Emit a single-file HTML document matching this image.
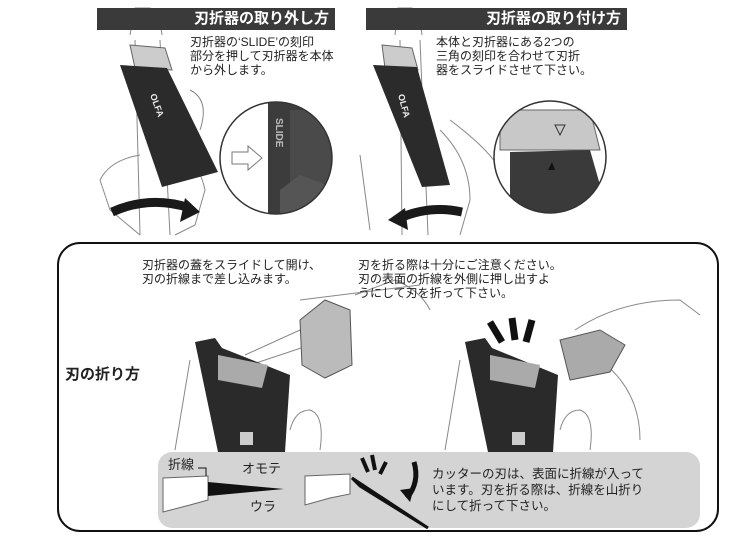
<!DOCTYPE html>
<html><head><meta charset="utf-8"><style>
body{margin:0;width:750px;height:537px;background:#fff;position:relative;overflow:hidden;font-family:"Liberation Sans","Noto Sans CJK JP",sans-serif;color:#222}
.t{position:absolute;font-size:12px;line-height:14px;white-space:nowrap}
.bar{position:absolute;background:#3a3a3a;color:#fff;font-weight:bold;font-size:15px;line-height:22px;height:22px;text-align:right;padding-right:6px;box-sizing:border-box}
svg{position:absolute;left:0;top:0}
</style></head><body>
<svg width="750" height="537">
<rect x="58" y="243" width="660" height="288" rx="22" fill="none" stroke="#111" stroke-width="2"/>
<rect x="158" y="452" width="542" height="76" rx="14" fill="#d4d4d4"/>
<g fill="none" stroke="#888" stroke-width="1">
<!-- top-left cutter frame & hand -->
<path d="M130 35 L135 8 L150 8 L160 20 L162 35 M135 40 L140 235 M160 40 L170 235"/>
<path d="M100 180 Q110 160 140 155 M100 180 L110 210 L140 235 M180 150 Q200 165 205 190 L195 225 L175 235 M190 90 Q210 100 200 130"/>
<!-- top-right -->
<path d="M395 35 L398 8 L412 8 L420 20 L422 35 M400 40 L402 235 M420 40 L428 235"/>
<path d="M360 155 L370 230 M440 130 Q470 160 470 200 L460 235 M450 120 Q490 150 500 170"/>
<!-- bottom hands -->
<path d="M190 360 L175 450 M290 430 Q295 410 310 410 Q325 415 320 450 M300 300 L420 285 M355 295 L395 280 Q420 290 430 310"/>
<path d="M460 360 L445 450 M560 430 Q565 410 580 410 Q595 415 590 450 M575 330 Q620 300 680 300 L700 315 M600 360 Q640 390 640 440"/>
<path d="M245 355 L300 330 L330 320 M250 365 L310 345 Q330 345 335 370"/>
</g>
<!-- top left blade -->
<path d="M130 45 L165 48 L172 70 L135 68 Z" fill="#ccc" stroke="#666"/>
<path d="M120 65 L167 68 L218 172 L162 187 Z" fill="#2b2b2b"/>
<text x="150" y="95" fill="#eee" font-size="9" font-weight="bold" transform="rotate(70 150 95)">OLFA</text>
<path d="M112 212 Q150 195 190 208" fill="none" stroke="#1a1a1a" stroke-width="9"/>
<path d="M185 198 L200 212 L180 222 Z" fill="#1a1a1a"/>
<!-- left circle -->
<clipPath id="c1"><circle cx="276" cy="158" r="56"/></clipPath>
<g clip-path="url(#c1)"><rect x="220" y="100" width="120" height="120" fill="#fff"/>
<rect x="268" y="100" width="80" height="120" fill="#3c3c3c"/>
<path d="M290 110 L340 110 L340 180 L290 190 Z" fill="#4a4a4a"/>
<path d="M280 190 L300 175 L340 190 L340 220 L280 220 Z" fill="#555"/>
<text x="276" y="118" fill="#bbb" font-size="10" font-weight="bold" transform="rotate(90 276 118)">SLIDE</text></g>
<circle cx="276" cy="158" r="56" fill="none" stroke="#333" stroke-width="1.5"/>
<path d="M232 152 L248 152 L248 146 L262 158 L248 170 L248 164 L232 164 Z" fill="#fff" stroke="#777"/>
<!-- top right blade -->
<path d="M382 45 L412 48 L418 70 L385 68 Z" fill="#ccc" stroke="#666"/>
<path d="M373 65 L417 67 L450 185 L422 187 Z" fill="#2b2b2b"/>
<text x="398" y="95" fill="#eee" font-size="9" font-weight="bold" transform="rotate(75 398 95)">OLFA</text>
<path d="M400 218 Q430 205 462 212" fill="none" stroke="#1a1a1a" stroke-width="9"/>
<path d="M405 208 L388 220 L408 230 Z" fill="#1a1a1a"/>
<clipPath id="c2"><circle cx="550" cy="157" r="56"/></clipPath>
<g clip-path="url(#c2)"><rect x="490" y="100" width="120" height="120" fill="#fff"/>
<path d="M500 110 L590 110 L600 150 L500 150 Z" fill="#c8c8c8" stroke="#666"/>
<path d="M510 152 L590 150 L610 220 L510 220 Z" fill="#3a3a3a"/>
<path d="M555 125 L565 125 L560 135 Z" fill="none" stroke="#333"/>
<path d="M548 170 L555 170 L552 162 Z" fill="#111"/></g>
<circle cx="550" cy="157" r="56" fill="none" stroke="#333" stroke-width="1.5"/>
<!-- bottom left cutter -->
<path d="M195 342 L215 338 L222 348 L290 375 L285 452 L218 452 Z" fill="#2a2a2a"/>
<path d="M218 355 L268 365 L262 388 L218 380 Z" fill="#aaa"/>
<path d="M300 320 L325 300 L350 310 L352 365 L325 378 L302 365 Z" fill="#bbb" stroke="#555"/>
<rect x="240" y="432" width="13" height="13" fill="#ccc"/>
<!-- bottom right cutter -->
<path d="M465 342 L485 338 L492 348 L558 375 L553 452 L488 452 Z" fill="#2a2a2a"/>
<path d="M490 355 L540 365 L535 388 L490 380 Z" fill="#aaa"/>
<path d="M560 340 L600 330 L625 345 L610 372 L570 380 Z" fill="#aaa" stroke="#555"/>
<path d="M490 322 L502 342 M512 318 L515 340 M532 320 L526 342" stroke="#111" stroke-width="7"/>
<rect x="512" y="432" width="13" height="13" fill="#ccc"/>
<!-- strip -->
<path d="M163 478 L208 476 L208 500 L190 505 L163 512 Z" fill="#fff" stroke="#666"/>
<path d="M208 482 L284 489 L208 496 Z" fill="#111"/>
<path d="M305 476 L350 474 L350 494 L330 498 L305 505 Z" fill="#fff" stroke="#666"/>
<path d="M352 478 L428 528 L360 486 Z" fill="#111" stroke="#111" stroke-width="3"/>
<path d="M362 458 L368 472 M372 455 L375 470 M386 462 L380 474" stroke="#111" stroke-width="4"/>
<path d="M414 462 Q420 482 407 498" fill="none" stroke="#111" stroke-width="5"/>
<path d="M400 490 L410 502 L414 488 Z" fill="#111"/>
<path d="M198 468 L206 468 L206 476" fill="none" stroke="#111"/>
</svg>
<div class="bar" style="left:97px;top:8px;width:238px">刃折器の取り外し方</div>
<div class="bar" style="left:366px;top:8px;width:261px">刃折器の取り付け方</div>
<div class="t" style="left:190px;top:35px">刃折器の‘SLIDE’の刻印<br>部分を押して刃折器を本体<br>から外します。</div>
<div class="t" style="left:436px;top:35px">本体と刃折器にある2つの<br>三角の刻印を合わせて刃折<br>器をスライドさせて下さい。</div>
<div class="t" style="left:142px;top:258px">刃折器の蓋をスライドして開け、<br>刃の折線まで差し込みます。</div>
<div class="t" style="left:358px;top:258px">刃を折る際は十分にご注意ください。<br>刃の表面の折線を外側に押し出すよ<br>うにして刃を折って下さい。</div>
<div class="t" style="left:65px;top:368px;font-size:15px;font-weight:bold">刃の折り方</div>
<div class="t" style="left:168px;top:458px;font-size:13px">折線</div>
<div class="t" style="left:242px;top:462px;font-size:13px">オモテ</div>
<div class="t" style="left:250px;top:500px;font-size:13px">ウラ</div>
<div class="t" style="left:432px;top:466px;font-size:12.5px;line-height:16px">カッターの刃は、表面に折線が入って<br>います。刃を折る際は、折線を山折り<br>にして折って下さい。</div>
</body></html>
